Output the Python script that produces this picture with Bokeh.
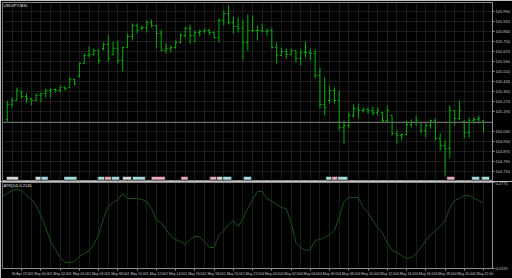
from bokeh.plotting import figure
from bokeh.layouts import column
from bokeh.models import FixedTicker, Grid, Label, Range1d, Span, ColumnDataSource
from bokeh.embed import file_html
from bokeh.resources import INLINE

symbol_title = "USDJPY,M30"
indicator_title = "ATR(14) 0.2145"

# OHLC bars (bar index 0..99)
bar_open = [105.126,105.246,105.278,105.342,105.310,105.294,105.278,105.318,105.334,105.358,
 105.366,105.358,105.382,105.382,105.446,105.470,105.574,105.638,105.646,105.678,
 105.694,105.726,105.646,105.694,105.598,105.702,105.790,105.878,105.854,105.862,
 105.902,105.878,105.814,105.678,105.694,105.702,105.742,105.798,105.854,105.798,
 105.822,105.830,105.838,105.822,105.782,105.918,105.974,105.902,105.870,105.854,
 105.742,105.838,105.838,105.838,105.830,105.838,105.702,105.638,105.670,105.646,
 105.678,105.614,105.662,105.662,105.654,105.478,105.246,105.278,105.358,105.278,
 105.062,105.078,105.158,105.214,105.198,105.206,105.198,105.182,105.182,105.118,
 105.158,105.014,104.998,105.006,105.086,105.102,105.102,105.038,105.078,105.118,
 104.974,104.918,104.894,105.198,105.134,105.110,105.022,105.118,105.126,105.118]
bar_high = [105.278,105.302,105.382,105.358,105.334,105.294,105.334,105.342,105.374,105.374,
 105.374,105.398,105.390,105.462,105.454,105.582,105.654,105.710,105.694,105.686,
 105.742,105.806,105.750,105.758,105.710,105.814,105.894,105.894,105.878,105.918,
 105.926,105.878,105.846,105.734,105.718,105.758,105.814,105.870,105.886,105.838,
 105.846,105.854,105.854,105.830,105.934,105.998,106.038,105.950,105.942,105.926,
 105.966,105.958,105.878,105.894,105.854,105.862,105.742,105.702,105.694,105.694,
 105.678,105.694,105.750,105.694,105.686,105.542,105.462,105.398,105.382,105.358,
 105.118,105.182,105.246,105.254,105.222,105.222,105.230,105.222,105.182,105.238,
 105.158,105.038,105.014,105.118,105.126,105.158,105.102,105.102,105.126,105.134,
 105.014,104.958,105.238,105.198,105.278,105.118,105.142,105.142,105.158,105.118]
bar_low = [105.102,105.222,105.278,105.294,105.262,105.238,105.278,105.262,105.302,105.302,
 105.342,105.342,105.358,105.382,105.398,105.462,105.574,105.622,105.638,105.574,
 105.678,105.590,105.638,105.574,105.510,105.702,105.758,105.814,105.838,105.822,
 105.862,105.694,105.670,105.654,105.662,105.694,105.734,105.782,105.734,105.742,
 105.790,105.814,105.798,105.774,105.742,105.878,105.886,105.814,105.822,105.598,
 105.678,105.822,105.758,105.822,105.798,105.694,105.574,105.638,105.614,105.638,
 105.582,105.558,105.622,105.598,105.454,105.214,105.158,105.254,105.254,105.038,
 104.934,105.054,105.142,105.134,105.182,105.174,105.158,105.158,105.102,105.102,
 104.998,104.934,104.958,104.998,105.062,105.078,105.014,104.982,105.054,104.958,
 104.878,104.678,104.814,105.078,105.118,104.974,104.982,105.094,105.094,105.022]
bar_close = [105.246,105.278,105.358,105.310,105.294,105.278,105.318,105.334,105.358,105.366,
 105.358,105.382,105.374,105.446,105.414,105.574,105.638,105.646,105.678,105.598,
 105.726,105.614,105.694,105.598,105.702,105.790,105.878,105.838,105.862,105.902,
 105.878,105.814,105.678,105.694,105.702,105.742,105.798,105.854,105.798,105.822,
 105.830,105.838,105.822,105.782,105.918,105.974,105.902,105.870,105.854,105.742,
 105.838,105.838,105.838,105.830,105.838,105.702,105.638,105.670,105.646,105.678,
 105.614,105.662,105.662,105.654,105.478,105.246,105.222,105.358,105.278,105.062,
 105.078,105.158,105.214,105.198,105.206,105.198,105.182,105.198,105.118,105.198,
 105.014,104.998,105.006,105.086,105.102,105.118,105.038,105.078,105.118,104.974,
 104.918,104.894,105.198,105.134,105.198,105.022,105.118,105.126,105.134,105.102]

current_price = 105.102

# ATR(14), bar index -1..99
atr_values = [0.2355,0.2445,0.2535,0.2565,0.2535,0.2385,0.2265,0.2085,0.1785,0.1425,
 0.1005,0.0765,0.0525,0.0375,0.0375,0.0405,0.0555,0.0645,0.0735,0.0915,
 0.1215,0.1695,0.2055,0.2175,0.2265,0.2445,0.2295,0.2295,0.2295,0.2265,
 0.2205,0.1995,0.1635,0.1575,0.1365,0.1155,0.1065,0.1005,0.0915,0.1065,
 0.1155,0.1155,0.1005,0.0825,0.0825,0.1185,0.1335,0.1515,0.1635,0.1455,
 0.1695,0.1995,0.2265,0.2505,0.2505,0.2295,0.2205,0.2115,0.2025,0.1995,
 0.1575,0.0975,0.0825,0.0735,0.0765,0.1035,0.1065,0.1125,0.1215,0.1335,
 0.1725,0.2205,0.2325,0.2325,0.2325,0.2025,0.1875,0.1635,0.1425,0.1245,
 0.0975,0.0735,0.0675,0.0585,0.0495,0.0525,0.0645,0.0825,0.1035,0.1215,
 0.1335,0.1455,0.1635,0.2025,0.2235,0.2295,0.2385,0.2385,0.2295,0.2235,
 0.2145]

# price scale labels
price_levels = [105.990,105.910,105.830,105.750,105.670,105.590,105.510,105.430,105.350,
                105.270,105.190,105.110,105.030,104.950,104.870,104.790,104.710]
atr_levels = [0.2775, 0.0195]

# time scale: bar index -> label
time_ticks = [-1,3,7,11,15,19,23,27,31,35,39,43,47,51,55,59,63,67,71,75,79,83,87,91,95,99]
time_labels = ["30 Apr 2020","30 Apr 22:00","1 May 00:00","1 May 02:00","1 May 04:00",
               "1 May 06:00","1 May 08:00","1 May 10:00","1 May 12:00","1 May 14:00",
               "1 May 16:00","1 May 18:00","1 May 20:00","1 May 22:00","4 May 00:00",
               "4 May 02:00","4 May 04:00","4 May 06:00","4 May 08:00","4 May 10:00",
               "4 May 12:00","4 May 14:00","4 May 16:00","4 May 18:00","4 May 20:00",
               "4 May 22:00"]

# calendar event flags (bar-index span, kind)
event_left = [-0.16,5.81,7.05,11.79,18.8,20.25,21.69,23.96,26.02,29.94,36.12,42.1,43.55,
              44.78,49.11,66.23,67.46,68.7,91.38,96.54,98.6]
event_right = [2.31,7.05,8.49,14.47,20.25,21.69,23.34,25.81,28.7,32.82,37.57,43.55,44.78,
               46.64,50.76,67.46,68.7,70.76,93.03,98.19,100.25]
event_kind = ["w","w","c","c","c","p","c","w","c","p","p","p","w","c","c","c","p","c","p","c","c"]

kind_color = {"w": "#d6d6d6", "c": "#a6dada", "p": "#e8a9b9"}

BG = "black"
GRID = "#363636"
FRAME = "#8c8c8c"
TXT = "#c8c8c8"
GREEN = "#00b000"
ATR_COL = "#165016"
FONT = "Liberation Sans"

idx = list(range(len(bar_close)))
xr = Range1d(-0.99, 100.87)

p1 = figure(width=512, height=181, x_range=xr, y_range=Range1d(104.630, 106.062),
            output_backend="svg", toolbar_location=None, x_axis_location=None,
            y_axis_location="right", background_fill_color=BG, border_fill_color=BG,
            min_border_left=2, min_border_right=17, min_border_top=2, min_border_bottom=0)
p1.outline_line_color = FRAME
p1.xgrid.visible = False
p1.ygrid.visible = False

grid_x = list(range(-1, 101, 2))
p1.add_layout(Grid(dimension=0, ticker=FixedTicker(ticks=grid_x), grid_line_color=GRID,
                   grid_line_dash="1 1", grid_line_width=1))
p1.add_layout(Grid(dimension=1, ticker=FixedTicker(ticks=price_levels), grid_line_color=GRID,
                   grid_line_dash="1 1", grid_line_width=1))

shown_levels = [v for v in price_levels if abs(v - current_price) > 0.02]
ya = p1.yaxis[0]
ya.ticker = FixedTicker(ticks=shown_levels)
ya.major_label_overrides = {v: f"{v:.3f}" for v in shown_levels}
ya.major_label_text_font_size = "4px"
ya.major_label_text_font = FONT
ya.major_label_text_color = TXT
ya.major_label_standoff = 1
ya.major_tick_out = 2
ya.major_tick_in = 0
ya.major_tick_line_color = "#9a9a9a"
ya.minor_tick_line_color = None
ya.axis_line_color = None

p1.add_layout(Span(location=current_price, dimension="width", line_color="#6c6c6c", line_width=1))

src = ColumnDataSource(dict(x=idx, o=bar_open, h=bar_high, l=bar_low, c=bar_close,
                            xl=[i - 0.32 for i in idx], xr=[i + 0.32 for i in idx]))
p1.segment(x0="x", y0="l", x1="x", y1="h", source=src, line_color=GREEN, line_width=1)
p1.segment(x0="xl", y0="o", x1="x", y1="o", source=src, line_color=GREEN, line_width=1)
p1.segment(x0="x", y0="c", x1="xr", y1="c", source=src, line_color=GREEN, line_width=1)

ev = ColumnDataSource(dict(left=event_left, right=event_right,
                           color=[kind_color[k] for k in event_kind]))
p1.quad(left="left", right="right", bottom=104.642, top=104.670, source=ev,
        fill_color="color", line_color="black", line_width=0.5)

p1.add_layout(Label(x=-0.8, y=106.060, text=symbol_title, text_font_size="4px",
                    text_font=FONT, text_color="#e0e0e0", text_baseline="top"))
p1.add_layout(Label(x=493, y=current_price, x_units="screen", y_units="data",
                    text=f"{current_price:.3f}", text_font_size="4px", text_font=FONT,
                    text_color="black", text_baseline="middle", text_align="left",
                    background_fill_color="#9aa3ad"))

p2 = figure(width=512, height=97, x_range=xr, y_range=Range1d(atr_levels[1], atr_levels[0]),
            output_backend="svg", toolbar_location=None, x_axis_location="below",
            y_axis_location="right", background_fill_color=BG, border_fill_color=BG,
            min_border_left=2, min_border_right=17, min_border_top=1, min_border_bottom=10)
p2.outline_line_color = FRAME
p2.xgrid.visible = False
p2.ygrid.visible = False
p2.add_layout(Grid(dimension=0, ticker=FixedTicker(ticks=grid_x), grid_line_color=GRID,
                   grid_line_dash="1 1", grid_line_width=1))

ya2 = p2.yaxis[0]
ya2.ticker = FixedTicker(ticks=atr_levels)
ya2.major_label_overrides = {v: f"{v:.4f}" for v in atr_levels}
ya2.major_label_text_font_size = "4px"
ya2.major_label_text_font = FONT
ya2.major_label_text_color = TXT
ya2.major_label_standoff = 1
ya2.major_tick_out = 2
ya2.major_tick_in = 0
ya2.major_tick_line_color = "#9a9a9a"
ya2.minor_tick_line_color = None
ya2.axis_line_color = None

xa = p2.xaxis[0]
xa.ticker = FixedTicker(ticks=time_ticks)
xa.major_label_overrides = {t: s for t, s in zip(time_ticks, time_labels)}
xa.major_label_text_font_size = "3.5px"
xa.major_label_text_font = FONT
xa.major_label_text_color = TXT
xa.major_label_text_align = "left"
xa.major_label_standoff = 1
xa.major_tick_out = 2
xa.major_tick_in = 0
xa.major_tick_line_color = "#9a9a9a"
xa.minor_tick_line_color = None
xa.axis_line_color = None

atr_x = list(range(-1, len(atr_values) - 1))
p2.line(atr_x, atr_values, line_color=ATR_COL, line_width=1)
p2.add_layout(Label(x=-0.8, y=0.2765, text=indicator_title, text_font_size="4px",
                    text_font=FONT, text_color="#e0e0e0", text_baseline="top"))

layout = column(p1, p2, spacing=0)
open("out.html", "w").write(file_html(layout, INLINE))
